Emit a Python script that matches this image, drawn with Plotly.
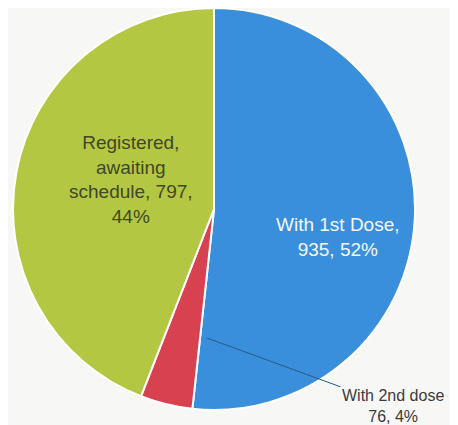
import plotly.graph_objects as go

categories = ["With 1st Dose", "With 2nd dose", "Registered, awaiting schedule"]
display_labels = ["With 1st Dose,", "With 2nd dose", "Registered,<br>awaiting<br>schedule,"]
values = [935, 76, 797]
percent_labels = ["52%", "4%", "44%"]
colors = ["#3a8fdc", "#d8414f", "#b4c742"]
text_colors = ["#f4f8fc", "#3a3a3a", "#3f4826"]

# page has an 8px body margin, so the figure is sized/offset to compensate
W, H = 450, 417

fig = go.Figure()
fig.add_trace(go.Pie(
    labels=categories,
    values=values,
    textinfo="none",
    marker=dict(colors=colors, line=dict(color="#ffffff", width=2)),
    sort=False,
    direction="clockwise",
    rotation=0,
    showlegend=False,
    hoverinfo="label+value+percent",
    domain=dict(x=[2 / W, 410 / W], y=[1 - 402 / H, 1.0]),
))

font_family = "Liberation Sans, Arial"

# With 1st Dose label (inside blue slice)
fig.add_annotation(
    x=330 / W, y=1 - 229 / H, xref="paper", yref="paper",
    xanchor="center", yanchor="middle",
    text=f"{display_labels[0]}<br>{values[0]}, {percent_labels[0]}",
    showarrow=False, align="center",
    font=dict(size=19, color=text_colors[0], family=font_family),
)

# Registered label (inside green slice)
fig.add_annotation(
    x=123 / W, y=1 - 171 / H, xref="paper", yref="paper",
    xanchor="center", yanchor="middle",
    text=f"{display_labels[2]} {values[2]},<br>{percent_labels[2]}",
    showarrow=False, align="center",
    font=dict(size=19, color=text_colors[2], family=font_family),
)

# With 2nd dose label (outside, with leader line)
fig.add_annotation(
    x=199 / W, y=1 - 330 / H, xref="paper", yref="paper",
    text=f"{display_labels[1]}<br>{values[1]}, {percent_labels[1]}",
    showarrow=True, arrowhead=0, arrowwidth=1, arrowcolor="#2a5a85",
    ax=186, ay=68, axref="pixel", ayref="pixel",
    font=dict(size=16, color=text_colors[1], family=font_family),
    align="center",
)

fig.update_layout(
    width=W, height=H,
    margin=dict(l=0, r=0, t=0, b=0),
    paper_bgcolor="#f7f7f6",
    plot_bgcolor="#f7f7f6",
)

fig.write_html("out.html")
